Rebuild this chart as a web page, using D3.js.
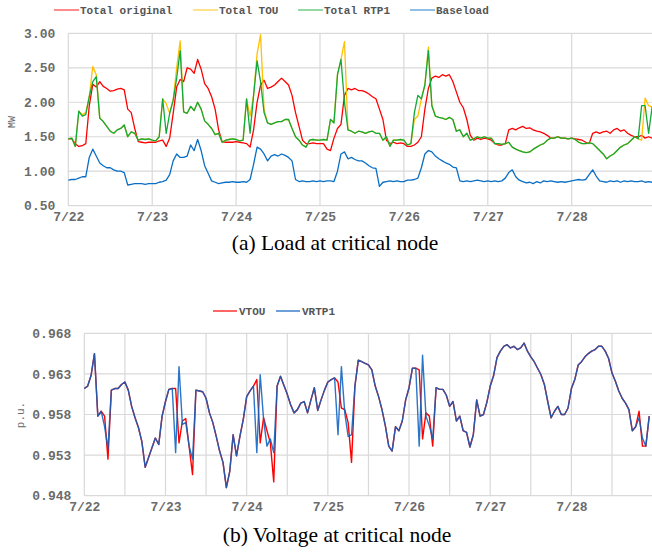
<!DOCTYPE html>
<html>
<head>
<meta charset="utf-8">
<script src="https://cdn.jsdelivr.net/npm/d3@7"></script>
<style>
  body { margin: 0; background: #fff; }
  svg text { font-family: "Liberation Mono", "Courier New", monospace; }
</style>
</head>
<body>
<svg id="chart" width="652" height="554"></svg>
<script>
// hourly samples from 7/22 00:00 to 7/28 23:00
const dayLabels = ["7/22", "7/23", "7/24", "7/25", "7/26", "7/27", "7/28"];
const dayHours = [0, 24, 48, 72, 96, 120, 144];
const halfDayHours = [0, 12, 24, 36, 48, 60, 72, 84, 96, 108, 120, 132, 144, 156, 168];

const loadTicks = [0.5, 1.0, 1.5, 2.0, 2.5, 3.0];
const voltTicks = [0.948, 0.953, 0.958, 0.963, 0.968];

// MW
const totalOriginal = [
  1.47, 1.47, 1.40, 1.36, 1.37, 1.40, 1.95, 2.26, 2.22, 2.30, 2.23, 2.20, 2.16, 2.17, 2.19, 2.20, 2.18, 1.90, 1.85, 1.62, 1.43, 1.42, 1.41, 1.42,
  1.42, 1.42, 1.44, 1.45, 1.36, 1.48, 1.84, 2.22, 2.33, 2.30, 2.50, 2.48, 2.42, 2.62, 2.48, 2.27, 2.20, 2.08, 1.90, 1.60, 1.43, 1.42, 1.42, 1.42,
  1.43, 1.42, 1.41, 1.40, 1.35, 1.60, 2.00, 2.25, 2.32, 2.20, 2.22, 2.25, 2.30, 2.35, 2.30, 2.25, 2.10, 1.85, 1.65, 1.45, 1.40, 1.40, 1.41, 1.40,
  1.40, 1.40, 1.32, 1.30, 1.48, 1.62, 1.68, 2.10, 2.20, 2.18, 2.20, 2.17, 2.17, 2.15, 2.12, 2.08, 2.05, 1.90, 1.75, 1.45, 1.40, 1.42, 1.40, 1.41,
  1.40, 1.36, 1.36, 1.38, 1.42, 1.50, 1.90, 2.20, 2.35, 2.38, 2.36, 2.40, 2.38, 2.40, 2.30, 2.15, 2.00, 1.92, 1.75, 1.52, 1.45, 1.48, 1.46, 1.48,
  1.47, 1.45, 1.40, 1.38, 1.38, 1.40, 1.60, 1.62, 1.60, 1.63, 1.65, 1.62, 1.63, 1.60, 1.58, 1.57, 1.55, 1.52, 1.48, 1.48, 1.50, 1.48, 1.48, 1.47,
  1.48, 1.47, 1.46, 1.45, 1.42, 1.40, 1.55, 1.57, 1.55, 1.57, 1.58, 1.55, 1.60, 1.62, 1.58, 1.60, 1.55, 1.52, 1.50, 1.50, 1.52, 1.48, 1.50, 1.48
];

const totalTOU = [
  1.47, 1.48, 1.36, 1.87, 1.82, 1.85, 2.08, 2.52, 2.40, 1.77, 1.72, 1.65, 1.58, 1.55, 1.60, 1.62, 1.67, 1.50, 1.57, 1.55, 1.45, 1.47, 1.46, 1.47,
  1.45, 1.44, 1.50, 2.05, 1.98, 1.84, 2.03, 2.50, 2.89, 1.86, 1.84, 1.94, 1.88, 2.00, 1.90, 1.73, 1.68, 1.62, 1.53, 1.55, 1.42, 1.45, 1.46, 1.47,
  1.46, 1.44, 1.45, 2.05, 1.80, 2.10, 2.70, 2.98, 1.90, 1.70, 1.68, 1.70, 1.72, 1.72, 1.75, 1.75, 1.62, 1.50, 1.45, 1.38, 1.35, 1.45, 1.46, 1.45,
  1.45, 1.46, 1.45, 1.75, 1.72, 2.40, 2.62, 2.88, 1.60, 1.58, 1.55, 1.58, 1.57, 1.55, 1.57, 1.58, 1.55, 1.55, 1.45, 1.50, 1.36, 1.45, 1.45, 1.46,
  1.45, 1.38, 1.40, 1.75, 1.80, 2.05, 2.25, 2.80, 1.95, 1.80, 1.78, 1.77, 1.75, 1.78, 1.75, 1.58, 1.60, 1.50, 1.55, 1.45, 1.47, 1.50, 1.48, 1.50,
  1.48, 1.48, 1.40, 1.40, 1.39, 1.40, 1.42, 1.35, 1.32, 1.30, 1.28, 1.27, 1.28, 1.32, 1.35, 1.38, 1.40, 1.45, 1.48, 1.48, 1.50, 1.48, 1.48, 1.47,
  1.48, 1.46, 1.42, 1.40, 1.40, 1.41, 1.40, 1.35, 1.30, 1.25, 1.18, 1.22, 1.25, 1.30, 1.35, 1.38, 1.40, 1.45, 1.50, 1.47, 1.45, 2.06, 1.95, 1.93
];

const totalRTP1 = [
  1.47, 1.48, 1.36, 1.87, 1.80, 1.82, 2.08, 2.30, 2.37, 1.77, 1.72, 1.65, 1.58, 1.55, 1.60, 1.62, 1.67, 1.50, 1.57, 1.55, 1.45, 1.47, 1.46, 1.47,
  1.45, 1.44, 1.50, 2.05, 1.55, 1.84, 2.03, 2.35, 2.75, 1.86, 1.84, 1.94, 1.88, 2.00, 1.90, 1.73, 1.68, 1.62, 1.53, 1.55, 1.42, 1.45, 1.46, 1.47,
  1.46, 1.44, 1.45, 2.05, 1.55, 2.10, 2.60, 2.30, 1.85, 1.70, 1.68, 1.70, 1.72, 1.72, 1.75, 1.75, 1.62, 1.50, 1.45, 1.38, 1.35, 1.45, 1.46, 1.45,
  1.45, 1.46, 1.45, 1.75, 1.70, 2.40, 2.62, 2.00, 1.60, 1.58, 1.55, 1.58, 1.57, 1.55, 1.57, 1.58, 1.55, 1.55, 1.45, 1.50, 1.36, 1.45, 1.45, 1.46,
  1.45, 1.38, 1.40, 1.85, 2.10, 2.05, 2.25, 2.75, 1.95, 1.80, 1.78, 1.77, 1.75, 1.78, 1.75, 1.58, 1.60, 1.50, 1.55, 1.45, 1.47, 1.50, 1.48, 1.50,
  1.48, 1.48, 1.40, 1.40, 1.39, 1.40, 1.42, 1.35, 1.32, 1.30, 1.28, 1.27, 1.28, 1.32, 1.35, 1.38, 1.40, 1.45, 1.48, 1.48, 1.50, 1.48, 1.48, 1.47,
  1.48, 1.46, 1.42, 1.40, 1.40, 1.41, 1.40, 1.35, 1.30, 1.25, 1.18, 1.22, 1.25, 1.30, 1.35, 1.38, 1.40, 1.45, 1.50, 1.47, 1.95, 1.95, 1.55, 1.93
];

const baseload = [
  0.87, 0.88, 0.88, 0.90, 0.92, 0.92, 1.20, 1.32, 1.22, 1.12, 1.08, 1.05, 1.05, 1.02, 1.00, 1.00, 0.98, 0.80, 0.81, 0.82, 0.82, 0.82, 0.81, 0.82,
  0.82, 0.82, 0.84, 0.85, 0.87, 0.95, 1.15, 1.25, 1.20, 1.20, 1.22, 1.38, 1.30, 1.46, 1.30, 1.08, 0.97, 0.86, 0.84, 0.82, 0.83, 0.84, 0.84, 0.85,
  0.84, 0.84, 0.85, 0.84, 0.88, 1.10, 1.35, 1.32, 1.25, 1.15, 1.22, 1.24, 1.22, 1.25, 1.23, 1.20, 1.15, 0.88, 0.85, 0.86, 0.85, 0.85, 0.86, 0.85,
  0.86, 0.85, 0.86, 0.86, 0.85, 1.00, 1.25, 1.28, 1.18, 1.20, 1.17, 1.15, 1.15, 1.12, 1.08, 1.05, 1.04, 0.78, 0.84, 0.85, 0.86, 0.85, 0.86, 0.85,
  0.85, 0.87, 0.87, 0.88, 0.90, 1.05, 1.25, 1.30, 1.28, 1.22, 1.18, 1.15, 1.12, 1.10, 1.06, 1.05, 0.86, 0.85, 0.86, 0.85, 0.86, 0.87, 0.86, 0.85,
  0.86, 0.85, 0.86, 0.85, 0.86, 0.90, 0.98, 1.02, 0.92, 0.87, 0.85, 0.83, 0.84, 0.82, 0.85, 0.83, 0.86, 0.85, 0.86, 0.85, 0.84, 0.85, 0.84, 0.85,
  0.86, 0.87, 0.88, 0.87, 0.88, 0.95, 1.02, 0.93, 0.86, 0.85, 0.84, 0.86, 0.85, 0.86, 0.84, 0.86, 0.85, 0.86, 0.85, 0.85, 0.86, 0.84, 0.85, 0.84
];

// p.u.
const vTOU = [
  0.9612, 0.9615, 0.9628, 0.9655, 0.9578, 0.9584, 0.9578, 0.9525, 0.9610, 0.9612, 0.9612, 0.9617, 0.9620, 0.9610, 0.9590, 0.9576, 0.9564, 0.9547, 0.9515, 0.9527, 0.9539, 0.9551, 0.9543, 0.9578,
  0.9596, 0.9611, 0.9612, 0.9612, 0.9545, 0.9572, 0.9575, 0.9540, 0.9506, 0.9610, 0.9609, 0.9608, 0.9600, 0.9582, 0.9570, 0.9553, 0.9535, 0.9521, 0.9490, 0.9510, 0.9555, 0.9529, 0.9553, 0.9574,
  0.9602, 0.9609, 0.9615, 0.9623, 0.9545, 0.9576, 0.9560, 0.9545, 0.9497, 0.9615, 0.9627, 0.9616, 0.9605, 0.9592, 0.9582, 0.9586, 0.9594, 0.9596, 0.9582, 0.9598, 0.9613, 0.9585, 0.9598, 0.9610,
  0.9620, 0.9623, 0.9625, 0.9620, 0.9588, 0.9586, 0.9570, 0.9521, 0.9615, 0.9647, 0.9645, 0.9643, 0.9641, 0.9635, 0.9615, 0.9602, 0.9586, 0.9566, 0.9541, 0.9535, 0.9565, 0.9560, 0.9572, 0.9598,
  0.9613, 0.9637, 0.9637, 0.9635, 0.9550, 0.9582, 0.9578, 0.9541, 0.9613, 0.9611, 0.9611, 0.9604, 0.9590, 0.9596, 0.9572, 0.9578, 0.9560, 0.9558, 0.9540, 0.9555, 0.9598, 0.9578, 0.9580, 0.9595,
  0.9615, 0.9628, 0.9650, 0.9658, 0.9664, 0.9666, 0.9662, 0.9664, 0.9660, 0.9662, 0.9668, 0.9658, 0.9651, 0.9645, 0.9637, 0.9629, 0.9617, 0.9596, 0.9576, 0.9584, 0.9590, 0.9580, 0.9580, 0.9588,
  0.9612, 0.9623, 0.9641, 0.9645, 0.9651, 0.9655, 0.9658, 0.9660, 0.9664, 0.9664, 0.9658, 0.9649, 0.9631, 0.9621, 0.9609, 0.9600, 0.9594, 0.9586, 0.9560, 0.9565, 0.9584, 0.9541, 0.9541, 0.9578
];

const vRTP1 = [
  0.9612, 0.9615, 0.9628, 0.9655, 0.9578, 0.9584, 0.9565, 0.9538, 0.9610, 0.9612, 0.9612, 0.9617, 0.9620, 0.9610, 0.9590, 0.9576, 0.9564, 0.9547, 0.9515, 0.9527, 0.9539, 0.9551, 0.9543, 0.9578,
  0.9596, 0.9611, 0.9612, 0.9533, 0.9639, 0.9568, 0.9570, 0.9541, 0.9525, 0.9610, 0.9609, 0.9608, 0.9600, 0.9582, 0.9570, 0.9553, 0.9535, 0.9521, 0.9490, 0.9510, 0.9555, 0.9529, 0.9553, 0.9574,
  0.9602, 0.9609, 0.9615, 0.9533, 0.9629, 0.9574, 0.9541, 0.9550, 0.9533, 0.9615, 0.9627, 0.9616, 0.9605, 0.9592, 0.9582, 0.9586, 0.9594, 0.9596, 0.9582, 0.9598, 0.9613, 0.9585, 0.9598, 0.9610,
  0.9620, 0.9623, 0.9625, 0.9555, 0.9639, 0.9582, 0.9553, 0.9555, 0.9615, 0.9647, 0.9645, 0.9643, 0.9641, 0.9635, 0.9615, 0.9602, 0.9586, 0.9566, 0.9541, 0.9535, 0.9565, 0.9560, 0.9572, 0.9598,
  0.9613, 0.9637, 0.9637, 0.9541, 0.9653, 0.9578, 0.9566, 0.9550, 0.9613, 0.9611, 0.9611, 0.9604, 0.9590, 0.9596, 0.9572, 0.9578, 0.9560, 0.9558, 0.9540, 0.9555, 0.9598, 0.9578, 0.9580, 0.9595,
  0.9615, 0.9628, 0.9650, 0.9658, 0.9664, 0.9666, 0.9662, 0.9664, 0.9660, 0.9662, 0.9668, 0.9658, 0.9651, 0.9645, 0.9637, 0.9629, 0.9617, 0.9596, 0.9576, 0.9584, 0.9590, 0.9580, 0.9580, 0.9588,
  0.9612, 0.9623, 0.9641, 0.9645, 0.9651, 0.9655, 0.9658, 0.9660, 0.9664, 0.9664, 0.9658, 0.9649, 0.9631, 0.9621, 0.9609, 0.9600, 0.9594, 0.9586, 0.9560, 0.9565, 0.9576, 0.9551, 0.9541, 0.9578
];

const GRID = "#d9d9d9";
const LABEL = "#6b6b6b";

const svg = d3.select("#chart");

// ---------- (a) load ----------
const xa = d3.scaleLinear().domain([0, 168]).range([68.3, 655.6]);
const ya = d3.scaleLinear().domain([0.5, 3.0]).range([205.7, 33.3]);

const ga = svg.append("g");

// grid
ga.selectAll(".hgrid").data(loadTicks).join("line")
    .attr("x1", xa(0)).attr("x2", 652)
    .attr("y1", d => ya(d)).attr("y2", d => ya(d))
    .attr("stroke", GRID).attr("stroke-width", 1.2);
ga.selectAll(".vgrid").data(dayHours).join("line")
    .attr("x1", d => xa(d)).attr("x2", d => xa(d))
    .attr("y1", ya(3.0)).attr("y2", ya(0.5))
    .attr("stroke", GRID).attr("stroke-width", 1.2);

// axes (labels only, lines come from the grid)
const yAxisA = ga.append("g")
    .attr("transform", `translate(${xa(0)},0)`)
    .call(d3.axisLeft(ya).tickValues(loadTicks).tickFormat(d3.format(".2f")).tickSize(0).tickPadding(13));
const xAxisA = ga.append("g")
    .attr("transform", `translate(0,${ya(0.5)})`)
    .call(d3.axisBottom(xa).tickValues(dayHours).tickFormat((d, i) => dayLabels[i]).tickSize(0).tickPadding(6));
[yAxisA, xAxisA].forEach(a => {
    a.select(".domain").remove();
    a.selectAll("text")
        .attr("fill", LABEL)
        .style("font-size", "13px")
        .style("font-weight", "bold");
});

ga.append("text")
    .attr("transform", "translate(15,122) rotate(-90)")
    .attr("text-anchor", "middle")
    .attr("fill", LABEL)
    .style("font-size", "10px")
    .text("MW");

const loadSeries = [
    { name: "Total original", values: totalOriginal, color: "#ff0000", lx: 54 },
    { name: "Total TOU", values: totalTOU, color: "#ffc000", lx: 193 },
    { name: "Total RTP1", values: totalRTP1, color: "#12a83a", lx: 298 },
    { name: "Baseload", values: baseload, color: "#0a6fc4", lx: 410 }
];

const lineA = d3.line().x((d, i) => xa(i)).y(d => ya(d));
loadSeries.forEach(s => {
    ga.append("path")
        .datum(s.values)
        .attr("d", lineA)
        .attr("fill", "none")
        .attr("stroke", s.color)
        .attr("stroke-width", 1.3)
        .attr("stroke-linejoin", "round");

    // legend (faded swatch like the original)
    ga.append("line")
        .attr("x1", s.lx).attr("x2", s.lx + 25)
        .attr("y1", 10).attr("y2", 10)
        .attr("stroke", s.color).attr("stroke-width", 2)
        .attr("stroke-opacity", 0.45);
    ga.append("text")
        .attr("x", s.lx + 26).attr("y", 14)
        .attr("fill", "#555")
        .style("font-size", "11px")
        .style("font-weight", "bold")
        .text(s.name);
});

// ---------- (b) voltage ----------
const xb = d3.scaleLinear().domain([0, 168]).range([84.3, 652.6]);
const yb = d3.scaleLinear().domain([0.948, 0.968]).range([495.7, 333.3]);

const gb = svg.append("g");

gb.selectAll(".hgrid").data(voltTicks).join("line")
    .attr("x1", xb(0)).attr("x2", 652)
    .attr("y1", d => yb(d)).attr("y2", d => yb(d))
    .attr("stroke", GRID).attr("stroke-width", 1.2);
gb.selectAll(".vgrid").data(halfDayHours).join("line")
    .attr("x1", d => xb(d)).attr("x2", d => xb(d))
    .attr("y1", yb(0.968)).attr("y2", yb(0.948))
    .attr("stroke", GRID).attr("stroke-width", 1.2);

const yAxisB = gb.append("g")
    .attr("transform", `translate(${xb(0)},0)`)
    .call(d3.axisLeft(yb).tickValues(voltTicks).tickFormat(d3.format(".3f")).tickSize(0).tickPadding(13));
const xAxisB = gb.append("g")
    .attr("transform", `translate(0,${yb(0.948)})`)
    .call(d3.axisBottom(xb).tickValues(dayHours).tickFormat((d, i) => dayLabels[i]).tickSize(0).tickPadding(6));
[yAxisB, xAxisB].forEach(a => {
    a.select(".domain").remove();
    a.selectAll("text")
        .attr("fill", LABEL)
        .style("font-size", "13px")
        .style("font-weight", "bold");
});

gb.append("text")
    .attr("transform", "translate(24,415) rotate(-90)")
    .attr("text-anchor", "middle")
    .attr("fill", LABEL)
    .style("font-size", "11px")
    .text("p.u.");

const voltSeries = [
    { name: "VTOU", values: vTOU, color: "#ff0000", opacity: 1, lx: 213 },
    { name: "VRTP1", values: vRTP1, color: "#0d62bf", opacity: 0.88, lx: 276 }
];

const lineB = d3.line().x((d, i) => xb(i)).y(d => yb(d));
voltSeries.forEach(s => {
    gb.append("path")
        .datum(s.values)
        .attr("d", lineB)
        .attr("fill", "none")
        .attr("stroke", s.color)
        .attr("stroke-opacity", s.opacity)
        .attr("stroke-width", 1.4)
        .attr("stroke-linejoin", "round");

    gb.append("line")
        .attr("x1", s.lx).attr("x2", s.lx + 24)
        .attr("y1", 311).attr("y2", 311)
        .attr("stroke", s.color).attr("stroke-width", 1.2);
    gb.append("text")
        .attr("x", s.lx + 26).attr("y", 315)
        .attr("fill", "#555")
        .style("font-size", "11px")
        .style("font-weight", "bold")
        .text(s.name);
});

// captions
svg.append("text")
    .attr("x", 335).attr("y", 250)
    .attr("text-anchor", "middle")
    .style("font-family", "'Liberation Serif', 'Times New Roman', serif")
    .style("font-size", "21.5px")
    .attr("fill", "#000")
    .text("(a) Load at critical node");
svg.append("text")
    .attr("x", 337).attr("y", 542)
    .attr("text-anchor", "middle")
    .style("font-family", "'Liberation Serif', 'Times New Roman', serif")
    .style("font-size", "21.5px")
    .attr("fill", "#000")
    .text("(b) Voltage at critical node");
</script>
</body>
</html>
